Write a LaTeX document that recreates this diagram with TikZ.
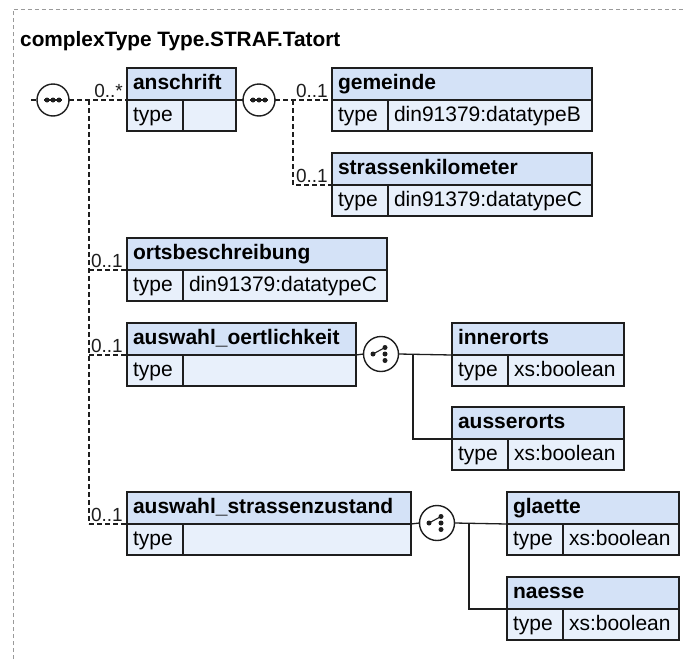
\documentclass[tikz,border=0pt]{standalone}
\usepackage{fontspec}
\setmainfont{Liberation Sans}
\usepackage{xcolor}
\usepackage{tikz}
\definecolor{headBlue}{HTML}{D4E2F7}
\definecolor{rowBlue}{HTML}{E8F0FB}
\definecolor{boxLine}{HTML}{1E1E1E}
\definecolor{frameGrey}{HTML}{9A9A9A}
\tikzset{
  elhead/.style={rectangle, draw=boxLine, fill=headBlue, line width=1.5pt, font=\fontsize{21}{25}\selectfont\bfseries, align=left, anchor=north west, minimum height=32pt, inner xsep=6pt, inner ysep=0pt, outer sep=0pt, text height=15.5pt, text depth=4.5pt},
  elrow/.style={rectangle, draw=boxLine, fill=rowBlue, line width=1.5pt, font=\fontsize{21}{25}\selectfont, align=left, anchor=north west, minimum height=31pt, inner xsep=6pt, inner ysep=0pt, outer sep=0pt, text height=15.5pt, text depth=4.5pt},
  seqnode/.style={circle, draw=boxLine, fill=white, line width=1.4pt, minimum size=32pt, inner sep=0pt, outer sep=0pt},
  choicenode/.style={circle, draw=boxLine, fill=white, line width=1.4pt, minimum size=35pt, inner sep=0pt, outer sep=0pt},
  optline/.style={draw=boxLine, line width=1.3pt, dash pattern=on 5pt off 3pt},
  reqline/.style={draw=boxLine, line width=1.3pt},
  occlabel/.style={font=\fontsize{19}{22}\selectfont, text=boxLine, anchor=base east, inner sep=0pt},
  frameline/.style={draw=frameGrey, line width=0.9pt, dash pattern=on 4pt off 3pt},
}
\begin{document}
\begin{tikzpicture}[x=1pt,y=-1pt]
  \useasboundingbox (0,0) rectangle (686,659);
  % Frame and title
  \draw[frameline] (13,680) -- (13,9) -- (700,9);
  \node[font=\fontsize{20.8}{25}\selectfont\bfseries, anchor=base west, inner sep=0pt] (title) at (20,46) {complexType Type.STRAF.Tatort};

  % Outer sequence
  \coordinate (entry) at (31,100);
  \node[seqnode] (seqA) at (53,100) {};
  \coordinate (trunkA) at (89,100);

  % anschrift with inner sequence
  \node[elhead, text width=97pt] (anschrift) at (127,68) {anschrift};
  \node[elrow, text width=44pt] (anschrift_t) at (anschrift.south west) {type};
  \node[elrow, text width=41pt] (anschrift_v) at (anschrift_t.north east) {};
  \node[seqnode] (seqB) at (259,100) {};
  \coordinate (trunkB) at (293,100);

  \node[elhead, text width=248pt] (gemeinde) at (332,68) {gemeinde};
  \node[elrow, text width=44pt] (gemeinde_t) at (gemeinde.south west) {type};
  \node[elrow, text width=192pt] (gemeinde_v) at (gemeinde_t.north east) {din91379:datatypeB};

  \node[elhead, text width=248pt] (kilometer) at (332,153) {strassenkilometer};
  \node[elrow, text width=44pt] (kilometer_t) at (kilometer.south west) {type};
  \node[elrow, text width=192pt] (kilometer_v) at (kilometer_t.north east) {din91379:datatypeC};

  % ortsbeschreibung
  \node[elhead, text width=248pt] (orts) at (127,238) {ortsbeschreibung};
  \node[elrow, text width=44pt] (orts_t) at (orts.south west) {type};
  \node[elrow, text width=192pt] (orts_v) at (orts_t.north east) {din91379:datatypeC};

  % auswahl_oertlichkeit with choice
  \node[elhead, text width=217pt] (oertlichkeit) at (127,323) {auswahl\_oertlichkeit};
  \node[elrow, text width=44pt] (oertlichkeit_t) at (oertlichkeit.south west) {type};
  \node[elrow, text width=161pt] (oertlichkeit_v) at (oertlichkeit_t.north east) {};
  \node[choicenode] (choiceA) at (381,354) {};
  \coordinate (barA) at (413,354);

  \node[elhead, text width=160pt] (innerorts) at (452,323) {innerorts};
  \node[elrow, text width=44pt] (innerorts_t) at (innerorts.south west) {type};
  \node[elrow, text width=104pt] (innerorts_v) at (innerorts_t.north east) {xs:boolean};

  \node[elhead, text width=160pt] (ausserorts) at (452,407) {ausserorts};
  \node[elrow, text width=44pt] (ausserorts_t) at (ausserorts.south west) {type};
  \node[elrow, text width=104pt] (ausserorts_v) at (ausserorts_t.north east) {xs:boolean};

  % auswahl_strassenzustand with choice
  \node[elhead, text width=272pt] (zustand) at (127,492) {auswahl\_strassenzustand};
  \node[elrow, text width=44pt] (zustand_t) at (zustand.south west) {type};
  \node[elrow, text width=216pt] (zustand_v) at (zustand_t.north east) {};
  \node[choicenode] (choiceB) at (437,523) {};
  \coordinate (barB) at (469,523);

  \node[elhead, text width=160pt] (glaette) at (507,492) {glaette};
  \node[elrow, text width=44pt] (glaette_t) at (glaette.south west) {type};
  \node[elrow, text width=104pt] (glaette_v) at (glaette_t.north east) {xs:boolean};

  \node[elhead, text width=160pt] (naesse) at (507,577) {naesse};
  \node[elrow, text width=44pt] (naesse_t) at (naesse.south west) {type};
  \node[elrow, text width=104pt] (naesse_v) at (naesse_t.north east) {xs:boolean};

  % Connections
  \draw[optline] (entry) -- (seqA.west);
  \draw[optline] (seqA.east) -- (anschrift.south west);
  \draw[optline] (trunkA) -- (trunkA |- zustand.south west);
  \draw[optline] (trunkA |- orts.south west) -- (orts.south west);
  \draw[optline] (trunkA |- oertlichkeit.south west) -- (oertlichkeit.south west);
  \draw[optline] (trunkA |- zustand.south west) -- (zustand.south west);
  \draw[reqline] (anschrift.south east) -- (seqB.west);
  \draw[optline] (seqB.east) -- (gemeinde.south west);
  \draw[optline] (trunkB) |- (kilometer.south west);
  \draw[reqline] (oertlichkeit.south east) -- (choiceA.west);
  \draw[reqline] (choiceA.east) -- (innerorts.south west);
  \draw[reqline] (barA) |- (ausserorts.south west);
  \draw[reqline] (zustand.south east) -- (choiceB.west);
  \draw[reqline] (choiceB.east) -- (glaette.south west);
  \draw[reqline] (barB) |- (naesse.south west);

  % Occurrence labels
  \node[occlabel] (occ_anschrift) at ([xshift=-4pt,yshift=3pt]anschrift.south west) {0..*};
  \node[occlabel] (occ_gemeinde) at ([xshift=-4pt,yshift=3pt]gemeinde.south west) {0..1};
  \node[occlabel] (occ_kilometer) at ([xshift=-4pt,yshift=3pt]kilometer.south west) {0..1};
  \node[occlabel] (occ_orts) at ([xshift=-4pt,yshift=3pt]orts.south west) {0..1};
  \node[occlabel] (occ_oertlichkeit) at ([xshift=-4pt,yshift=3pt]oertlichkeit.south west) {0..1};
  \node[occlabel] (occ_zustand) at ([xshift=-4pt,yshift=3pt]zustand.south west) {0..1};

  % Sequence icons
  \draw[reqline, line width=1.1pt] ([xshift=-9pt]seqA.center) -- ([xshift=9pt]seqA.center);
  \fill[boxLine] ([xshift=-6pt]seqA.center) circle (2.5pt) (seqA.center) circle (2.5pt) ([xshift=6pt]seqA.center) circle (2.5pt);
  \draw[reqline, line width=1.1pt] ([xshift=-9pt]seqB.center) -- ([xshift=9pt]seqB.center);
  \fill[boxLine] ([xshift=-6pt]seqB.center) circle (2.5pt) (seqB.center) circle (2.5pt) ([xshift=6pt]seqB.center) circle (2.5pt);

  % Choice icons
  \draw[reqline, line width=1.1pt] ([xshift=-8pt]choiceA.center) -- ([xshift=4pt,yshift=6.5pt]choiceA.center);
  \fill[boxLine] ([xshift=-8pt]choiceA.center) circle (2.5pt) ([xshift=4pt,yshift=6.5pt]choiceA.center) circle (2.5pt) ([xshift=4pt]choiceA.center) circle (2.5pt) ([xshift=4pt,yshift=-6.5pt]choiceA.center) circle (2.5pt);
  \draw[reqline, line width=1.1pt] ([xshift=-8pt]choiceB.center) -- ([xshift=4pt,yshift=6.5pt]choiceB.center);
  \fill[boxLine] ([xshift=-8pt]choiceB.center) circle (2.5pt) ([xshift=4pt,yshift=6.5pt]choiceB.center) circle (2.5pt) ([xshift=4pt]choiceB.center) circle (2.5pt) ([xshift=4pt,yshift=-6.5pt]choiceB.center) circle (2.5pt);
\end{tikzpicture}
\end{document}
